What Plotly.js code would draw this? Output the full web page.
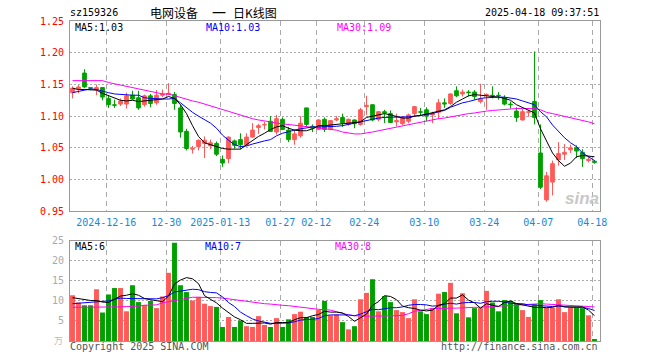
<!DOCTYPE html>
<html><head><meta charset="utf-8">
<script src="https://cdn.plot.ly/plotly-3.0.1.min.js"></script>
<style>html,body{margin:0;padding:0;background:#fff}#chart{width:660px;height:360px}</style>
</head><body><div id="chart"></div>
<script>
const dates = ['2024-12-06','2024-12-09','2024-12-10','2024-12-11','2024-12-12','2024-12-13',
'2024-12-16','2024-12-17','2024-12-18','2024-12-19','2024-12-20',
'2024-12-23','2024-12-24','2024-12-25','2024-12-26','2024-12-27',
'2024-12-30','2024-12-31','2025-01-02','2025-01-03',
'2025-01-06','2025-01-07','2025-01-08','2025-01-09','2025-01-10',
'2025-01-13','2025-01-14','2025-01-15','2025-01-16','2025-01-17',
'2025-01-20','2025-01-21','2025-01-22','2025-01-23','2025-01-24',
'2025-01-27','2025-02-05','2025-02-06','2025-02-07',
'2025-02-10','2025-02-11','2025-02-12','2025-02-13','2025-02-14',
'2025-02-17','2025-02-18','2025-02-19','2025-02-20','2025-02-21',
'2025-02-24','2025-02-25','2025-02-26','2025-02-27','2025-02-28',
'2025-03-03','2025-03-04','2025-03-05','2025-03-06','2025-03-07',
'2025-03-10','2025-03-11','2025-03-12','2025-03-13','2025-03-14',
'2025-03-17','2025-03-18','2025-03-19','2025-03-20','2025-03-21',
'2025-03-24','2025-03-25','2025-03-26','2025-03-27','2025-03-28',
'2025-03-31','2025-04-01','2025-04-02','2025-04-03',
'2025-04-07','2025-04-08','2025-04-09','2025-04-10','2025-04-11',
'2025-04-14','2025-04-15','2025-04-16','2025-04-17','2025-04-18'];

const openP = [1.137,1.143,1.168,1.145,1.142,1.145,1.128,1.118,1.119,1.119,
1.133,1.129,1.118,1.132,1.121,1.133,1.134,1.134,1.113,1.076,
1.048,1.052,1.057,1.053,1.057,1.032,1.033,1.061,1.063,1.055,
1.067,1.082,1.086,1.092,1.075,1.095,1.078,1.063,1.069,1.113,
1.084,1.079,1.095,1.079,1.094,1.098,1.087,1.094,1.087,1.115,
1.118,1.095,1.107,1.104,1.091,1.088,1.092,1.104,1.107,1.110,
1.102,1.106,1.121,1.120,1.140,1.135,1.138,1.138,1.123,1.133,
1.133,1.133,1.129,1.119,1.108,1.094,1.106,1.123,1.042,0.968,
0.996,1.031,1.040,1.047,1.050,1.043,1.030,1.029];

const highP = [1.147,1.149,1.174,1.146,1.150,1.146,1.133,1.126,1.128,1.137,
1.140,1.140,1.134,1.135,1.141,1.142,1.152,1.138,1.118,1.080,
1.053,1.063,1.068,1.063,1.060,1.038,1.068,1.063,1.073,1.073,
1.089,1.088,1.091,1.100,1.102,1.098,1.083,1.079,1.100,1.113,
1.087,1.095,1.098,1.094,1.100,1.104,1.096,1.095,1.113,1.132,
1.118,1.108,1.110,1.109,1.104,1.100,1.104,1.116,1.113,1.114,
1.107,1.127,1.128,1.136,1.147,1.142,1.141,1.141,1.151,1.136,
1.147,1.138,1.133,1.123,1.114,1.111,1.110,1.202,1.087,1.012,
1.030,1.059,1.056,1.055,1.054,1.048,1.036,1.031];

const lowP = [1.128,1.136,1.144,1.141,1.133,1.125,1.113,1.113,1.116,1.112,
1.126,1.110,1.115,1.114,1.118,1.130,1.133,1.110,1.066,1.046,
1.041,1.046,1.034,1.048,1.037,1.020,1.026,1.049,1.048,1.053,
1.066,1.072,1.079,1.075,1.071,1.078,1.059,1.055,1.066,1.083,
1.075,1.078,1.075,1.078,1.092,1.083,1.085,1.081,1.085,1.102,
1.092,1.092,1.089,1.089,1.084,1.086,1.089,1.099,1.100,1.092,
1.089,1.095,1.113,1.118,1.130,1.131,1.131,1.126,1.120,1.110,
1.128,1.126,1.117,1.112,1.091,1.093,1.099,1.087,0.985,0.965,
0.975,1.022,1.031,1.042,1.034,1.020,1.027,1.025];

const closeP = [1.144,1.146,1.146,1.144,1.145,1.130,1.118,1.117,1.124,1.132,
1.127,1.113,1.132,1.120,1.133,1.135,1.136,1.120,1.075,1.049,
1.049,1.062,1.062,1.058,1.040,1.026,1.067,1.054,1.055,1.067,
1.078,1.085,1.087,1.076,1.096,1.079,1.063,1.072,1.089,1.087,
1.081,1.094,1.079,1.093,1.096,1.089,1.095,1.088,1.110,1.117,
1.094,1.107,1.105,1.090,1.093,1.098,1.102,1.115,1.106,1.100,
1.104,1.121,1.119,1.135,1.132,1.138,1.137,1.131,1.127,1.134,
1.132,1.132,1.119,1.118,1.098,1.107,1.107,1.098,0.988,1.006,
1.025,1.041,1.043,1.050,1.045,1.033,1.032,1.027];

const volume = [11.4,9.6,8.9,8.9,12.9,7.1,11.6,13.2,13.2,7.4,
13.9,9.7,9.0,10.0,8.2,11.1,17.0,24.5,13.9,12.2,
10.1,11.0,9.3,8.7,8.5,3.5,6.0,3.5,5.1,3.7,
3.5,6.2,4.0,3.5,5.7,3.5,5.4,6.7,7.3,6.0,
6.0,7.8,10.0,6.4,6.6,4.7,2.9,3.7,10.4,12.0,
15.4,7.4,11.2,9.7,7.7,7.2,5.7,10.4,7.4,6.7,
8.2,11.8,12.2,14.5,6.9,11.9,5.9,8.2,8.2,12.5,
9.6,7.4,10.2,10.0,9.4,7.7,6.0,9.1,10.2,8.3,
8.3,10.4,7.2,8.3,8.3,8.2,6.4,0.5];

const ma5 = [1.144,1.142,1.142,1.142,1.141,1.136,1.132,1.128,1.125,1.124,
1.125,1.123,1.124,1.125,1.125,1.127,1.131,1.128,1.118,1.104,
1.085,1.068,1.058,1.055,1.053,1.049,1.048,1.048,1.048,1.055,
1.062,1.068,1.073,1.079,1.083,1.085,1.081,1.078,1.077,1.077,
1.080,1.085,1.085,1.086,1.087,1.088,1.088,1.089,1.091,1.098,
1.100,1.102,1.104,1.102,1.100,1.097,1.097,1.100,1.101,1.103,
1.105,1.107,1.110,1.115,1.122,1.127,1.132,1.134,1.133,1.133,
1.132,1.130,1.128,1.125,1.118,1.114,1.110,1.105,1.080,1.062,
1.042,1.030,1.021,1.026,1.036,1.038,1.037,1.036];

const ma10 = [1.137,1.139,1.141,1.143,1.142,1.139,1.137,1.135,1.134,1.133,
1.133,1.133,1.129,1.128,1.127,1.127,1.127,1.128,1.121,1.113,
1.106,1.100,1.094,1.089,1.081,1.070,1.062,1.055,1.052,1.053,
1.056,1.059,1.061,1.063,1.069,1.073,1.076,1.078,1.080,1.082,
1.083,1.083,1.083,1.083,1.084,1.085,1.087,1.089,1.092,1.094,
1.095,1.097,1.098,1.098,1.098,1.098,1.099,1.100,1.101,1.102,
1.104,1.107,1.109,1.114,1.118,1.121,1.123,1.126,1.128,1.129,
1.130,1.130,1.130,1.129,1.127,1.124,1.121,1.118,1.107,1.099,
1.086,1.076,1.066,1.058,1.052,1.042,1.036,1.030];

const ma30 = [1.156,1.156,1.156,1.156,1.156,1.156,1.153,1.151,1.149,1.147,
1.145,1.143,1.141,1.139,1.136,1.135,1.135,1.132,1.130,1.127,
1.124,1.122,1.119,1.116,1.113,1.110,1.107,1.104,1.101,1.098,
1.096,1.094,1.093,1.091,1.089,1.088,1.086,1.085,1.084,1.083,
1.082,1.081,1.080,1.079,1.078,1.075,1.073,1.072,1.072,1.073,
1.075,1.077,1.079,1.080,1.083,1.084,1.086,1.089,1.091,1.092,
1.095,1.096,1.097,1.099,1.100,1.102,1.104,1.105,1.107,1.108,
1.109,1.110,1.111,1.111,1.112,1.112,1.112,1.112,1.110,1.106,
1.104,1.102,1.100,1.098,1.096,1.094,1.091,1.088];

const vma5 = [10.8,10.6,10.3,10.1,10.1,9.7,9.6,10.5,11.2,11.4,
11.8,11.4,10.6,10.3,10.1,9.8,11.2,14.2,15.2,15.8,
15.5,14.3,11.3,10.4,9.5,8.2,7.2,6.0,5.3,4.4,
4.4,4.4,4.5,4.2,4.6,4.6,4.6,5.3,5.8,5.8,
6.3,6.6,7.4,7.2,7.2,7.0,6.1,4.9,5.7,6.7,
8.9,9.8,11.3,11.1,10.3,8.7,8.3,8.1,7.7,7.5,
7.7,8.9,9.3,10.7,10.7,11.5,10.2,9.5,8.2,9.3,
8.9,8.6,9.6,10.0,9.3,9.0,8.6,8.4,8.4,8.3,
8.4,8.9,8.5,8.5,8.5,8.5,7.7,6.3];

const vma10 = [9.3,9.4,9.5,9.6,9.7,9.8,10.0,10.4,10.7,10.6,
10.6,10.5,10.5,10.5,10.5,10.8,11.3,12.2,12.4,12.7,
12.9,12.8,12.3,12.1,12.0,11.0,9.6,8.6,7.2,6.3,
5.5,5.0,4.7,4.4,4.4,4.4,4.5,4.8,5.2,5.4,
5.4,5.6,6.3,6.5,6.5,6.6,6.5,6.3,6.7,7.3,
7.9,7.8,8.0,8.3,8.3,8.5,8.9,9.1,9.1,9.0,
8.7,8.8,9.2,9.4,9.2,9.5,9.6,9.6,9.4,9.8,
9.9,9.9,9.7,9.4,9.3,9.3,9.0,9.0,8.8,8.7,
8.6,8.7,8.5,8.4,8.4,8.4,8.1,7.6];

const vma30 = [8.4,8.4,8.4,8.4,8.4,8.4,8.4,8.4,8.5,8.6,
8.6,8.7,8.9,8.9,9.0,9.5,9.8,10.1,10.4,10.7,
10.9,10.9,10.9,10.8,10.8,10.7,10.5,10.3,10.0,9.9,
9.7,9.5,9.3,9.2,9.0,8.9,8.8,8.6,8.4,8.3,
8.1,7.9,7.8,7.7,7.3,6.9,6.5,6.3,6.2,6.2,
6.2,6.2,6.2,6.3,6.3,6.4,6.8,7.4,7.6,7.8,
8.1,8.1,8.2,8.2,8.2,8.3,8.3,8.4,8.4,8.5,
8.6,8.7,8.8,8.9,9.0,9.1,9.2,9.3,9.3,9.2,
9.1,9.0,8.9,8.8,8.7,8.6,8.6,8.5];

const tickDates = ['2024-12-16','2024-12-30','2025-01-13','2025-01-27','2025-02-12','2025-02-24','2025-03-10','2025-03-24','2025-04-07','2025-04-18'];
const tickLabels = ['2024-12-16','12-30','2025-01-13','01-27','02-12','02-24','03-10','03-24','04-07','04-18'];
const priceTicks = [0.95,1.00,1.05,1.10,1.15,1.20,1.25];
const volTicks = [5,10,15,20,25];

const UP = '#ff5a5a', DOWN = '#00a000';
const idx = dates.map((d,i)=>i);
const isUp = idx.map(i => closeP[i] >= openP[i]);
const upI = idx.filter(i => isUp[i]);
const dnI = idx.filter(i => !isUp[i]);

function wick(list){
  const x=[], y=[];
  list.forEach(i=>{ x.push(i,i,null); y.push(lowP[i],highP[i],null); });
  return {x, y};
}
const wu = wick(upI), wd = wick(dnI);

const traces = [
  {type:'bar', x: idx, y: volume, xaxis:'x2', yaxis:'y2', width:0.82,
   marker:{color: idx.map(i=> isUp[i]?UP:DOWN), line:{width:0}}, hoverinfo:'skip'},
  {type:'bar', x: upI, base: upI.map(i=>openP[i]), y: upI.map(i=>closeP[i]-openP[i]), width:0.62,
   marker:{color:UP, line:{color:UP, width:1}}, hoverinfo:'skip'},
  {type:'bar', x: dnI, base: dnI.map(i=>closeP[i]), y: dnI.map(i=>openP[i]-closeP[i]), width:0.62,
   marker:{color:DOWN, line:{color:DOWN, width:1}}, hoverinfo:'skip'},
  {type:'scatter', mode:'lines', x: wu.x, y: wu.y, line:{color:UP, width:1}, connectgaps:false, hoverinfo:'skip'},
  {type:'scatter', mode:'lines', x: wd.x, y: wd.y, line:{color:DOWN, width:1}, connectgaps:false, hoverinfo:'skip'},
  {type:'scatter', mode:'lines', x: idx, y: ma30, line:{color:'#ff00ff', width:1}},
  {type:'scatter', mode:'lines', x: idx, y: ma10, line:{color:'#0000ff', width:1}},
  {type:'scatter', mode:'lines', x: idx, y: ma5, line:{color:'#000000', width:1}},
  {type:'scatter', mode:'lines', x: idx, y: vma30, xaxis:'x2', yaxis:'y2', line:{color:'#ff00ff', width:1}},
  {type:'scatter', mode:'lines', x: idx, y: vma10, xaxis:'x2', yaxis:'y2', line:{color:'#0000ff', width:1}},
  {type:'scatter', mode:'lines', x: idx, y: vma5, xaxis:'x2', yaxis:'y2', line:{color:'#000000', width:1}}
];

const L=70, R=600, T=21, B=341;
const ax = px => (px-L)/(R-L);
const ay = py => (B-py)/(B-T);
const mono = 'DejaVu Sans Mono, monospace';
function txt(text, x, y, color, anchor, size, family){
  return {text, x: ax(x), y: ay(y), xref:'paper', yref:'paper', xanchor: anchor, yanchor:'middle',
    showarrow:false, borderpad:0, borderwidth:0, font:{family: family||mono, size: size||10, color}};
}

const tickPos = tickDates.map(d => dates.indexOf(d) - 0.37);
const gridC = '#aaaaaa', frameC = '#999999';
const xCommon = {range:[-0.417, 87.917], tickvals: tickPos, ticktext: tickLabels, showgrid:true,
  gridcolor:gridC, gridwidth:1, griddash:'5px,4px', zeroline:false, showline:true, mirror:true,
  linecolor:frameC, linewidth:1, ticks:'', fixedrange:true};

const cjk = 'Noto Sans CJK SC';
const layout = {
  width:660, height:360, margin:{l:70, r:60, t:21, b:19, pad:0},
  paper_bgcolor:'#ffffff', plot_bgcolor:'#ffffff', showlegend:false, barmode:'overlay',
  xaxis: Object.assign({}, xCommon, {anchor:'y', domain:[0,1],
    tickfont:{family:mono, size:10, color:'#1a88d8'}, ticklabelstandoff:2}),
  xaxis2: Object.assign({}, xCommon, {anchor:'y2', domain:[0,1], matches:'x', showticklabels:false}),
  yaxis: {domain:[ay(211.3), 1], range:[0.95,1.25], tickvals: priceTicks, ticktext: priceTicks.map(v=>v.toFixed(2)),
    showgrid:true, gridcolor:gridC, griddash:'2px,2px', zeroline:false, showline:true, mirror:true,
    linecolor:frameC, linewidth:1, ticks:'', ticklabelstandoff:3,
    tickfont:{family:mono, size:10, color:'#ff0000'}, anchor:'x'},
  yaxis2: {domain:[0, ay(240.7)], range:[0,25], tickvals: volTicks, ticktext: volTicks.map(String),
    showgrid:true, gridcolor:gridC, griddash:'2px,2px', zeroline:false, showline:true, mirror:true,
    linecolor:frameC, linewidth:1, ticks:'', ticklabelstandoff:3,
    tickfont:{family:mono, size:10, color:'#aaaaaa'}, anchor:'x2'},
  annotations: [
    txt('sz159326', 70, 12.5, '#000000', 'left'),
    txt('电网设备', 150, 12, '#000000', 'left', 12, cjk),
    txt('一', 219, 12, '#000000', 'center', 14, cjk),
    txt('日K线图', 233, 12, '#000000', 'left', 12, cjk),
    txt('2025-04-18 09:37:51', 599, 12.5, '#000000', 'right'),
    txt('MA5:1.03', 75, 27.5, '#000000', 'left'),
    txt('MA10:1.03', 206, 27.5, '#0000ff', 'left'),
    txt('MA30:1.09', 337, 27.5, '#ff00ff', 'left'),
    txt('MA5:6', 75, 246.5, '#000000', 'left'),
    txt('MA10:7', 205, 246.5, '#0000ff', 'left'),
    txt('MA30:8', 335, 246.5, '#ff00ff', 'left'),
    txt('万', 58, 340, '#bbbbbb', 'center', 9, cjk),
    txt('Copyright 2025 SINA.COM', 70, 346, '#555555', 'left'),
    txt('http://finance.sina.com.cn', 598, 346, '#555555', 'right'),
    txt('<b><i>sina</i></b>', 582, 198, '#c8c8c8', 'center', 17, 'Liberation Sans')
  ]
};

Plotly.newPlot('chart', traces, layout, {staticPlot:true, displayModeBar:false});
</script>
</body></html>
